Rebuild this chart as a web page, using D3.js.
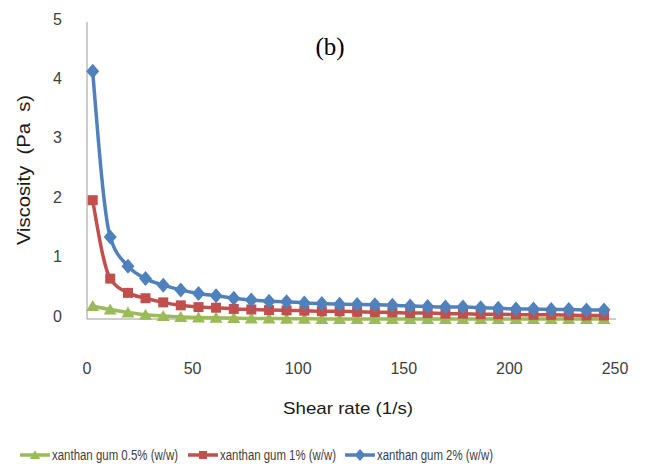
<!DOCTYPE html>
<html>
<head>
<meta charset="utf-8">
<script src="https://cdn.jsdelivr.net/npm/d3@7"></script>
<style>
  body { margin: 0; background: #fff; }
  text { font-family: "Liberation Sans", Arial, sans-serif; }
</style>
</head>
<body>
<div id="viz"></div>
<script>
// shear rate (1/s)
var shearRate = [2.7, 11.0, 19.4, 27.7, 36.1, 44.4, 52.8, 61.1, 69.5, 77.8,
                 86.2, 94.5, 102.9, 111.2, 119.6, 127.9, 136.3, 144.6, 153.0, 161.3,
                 169.7, 178.0, 186.4, 194.7, 203.1, 211.4, 219.8, 228.1, 236.5, 244.8];

// viscosity (Pa s)
var gum05 = [0.22, 0.16, 0.11, 0.07, 0.05, 0.035, 0.025, 0.02, 0.015, 0.01,
             0.01, 0.005, 0.005, 0, 0, 0, 0, 0, 0, 0,
             0, 0, 0, 0, 0, 0, 0, 0, 0, 0];
var gum1 = [2.0, 0.68, 0.44, 0.35, 0.28, 0.23, 0.2, 0.19, 0.17, 0.16,
            0.15, 0.145, 0.14, 0.13, 0.13, 0.12, 0.115, 0.11, 0.1, 0.1,
            0.09, 0.09, 0.08, 0.08, 0.075, 0.07, 0.07, 0.065, 0.06, 0.06];
var gum2 = [4.17, 1.38, 0.89, 0.68, 0.57, 0.49, 0.43, 0.39, 0.35, 0.32,
            0.3, 0.29, 0.27, 0.26, 0.25, 0.245, 0.24, 0.23, 0.22, 0.21,
            0.2, 0.2, 0.19, 0.18, 0.17, 0.17, 0.16, 0.16, 0.15, 0.15];

var seriesNames = ["xanthan gum 0.5% (w/w)", "xanthan gum 1% (w/w)", "xanthan gum 2% (w/w)"];
var xTicks = [0, 50, 100, 150, 200, 250];
var yTicks = [0, 1, 2, 3, 4, 5];

var width = 646, height = 470;

var svg = d3.select("#viz")
  .append("svg")
  .attr("width", width)
  .attr("height", height);

var x = d3.scaleLinear().domain([0, 250]).range([87, 615]);
var y = d3.scaleLinear().domain([0, 5]).range([319, 22]);

// marker shapes, Excel-like
var triangle = "M0,-6L6.5,5L-6.5,5Z";
var square = "M-5,-5H5V5H-5Z";
var diamond = "M0,-7.5L6.5,0L0,7.5L-6.5,0Z";

// axes lines
svg.append("line")
  .attr("x1", x(0)).attr("x2", x(0))
  .attr("y1", y(5)).attr("y2", y(0))
  .attr("stroke", "#9a9a9a").attr("stroke-width", 1);
svg.append("line")
  .attr("x1", x(0)).attr("x2", x(250) + 1)
  .attr("y1", y(0)).attr("y2", y(0))
  .attr("stroke", "#9a9a9a").attr("stroke-width", 1);

// tick labels
svg.selectAll(".ylab").data(yTicks).enter().append("text")
  .attr("class", "ylab")
  .attr("x", 62)
  .attr("y", function(d) { return y(d) - 3; })
  .attr("dy", "0.35em")
  .attr("text-anchor", "end")
  .style("font-size", "16px")
  .attr("fill", "#404040")
  .text(function(d) { return d; });

svg.selectAll(".xlab").data(xTicks).enter().append("text")
  .attr("class", "xlab")
  .attr("x", function(d) { return x(d); })
  .attr("y", 368)
  .attr("dy", "0.35em")
  .attr("text-anchor", "middle")
  .style("font-size", "16px")
  .attr("fill", "#404040")
  .text(function(d) { return d; });

// axis titles
svg.append("text")
  .attr("x", 348).attr("y", 408)
  .attr("dy", "0.35em")
  .attr("text-anchor", "middle")
  .style("font-size", "17px")
  .attr("textLength", 130)
  .attr("lengthAdjust", "spacingAndGlyphs")
  .attr("fill", "#1a1a1a")
  .text("Shear rate (1/s)");

svg.append("text")
  .attr("transform", "translate(23,170) rotate(-90)")
  .attr("dy", "0.35em")
  .attr("text-anchor", "middle")
  .style("font-size", "19px")
  .style("white-space", "pre")
  .attr("textLength", 150)
  .attr("lengthAdjust", "spacingAndGlyphs")
  .attr("fill", "#1a1a1a")
  .text("Viscosity  (Pa  s)");

svg.append("text")
  .attr("x", 330).attr("y", 46)
  .attr("dy", "0.35em")
  .attr("text-anchor", "middle")
  .style("font-family", "'Liberation Serif', 'Times New Roman', serif")
  .style("font-size", "25px")
  .attr("fill", "#000")
  .text("(b)");

var series = [
  {name: seriesNames[0], values: gum05, color: "#9BBB59", shape: triangle, textW: 126},
  {name: seriesNames[1], values: gum1, color: "#C0504D", shape: square, textW: 116},
  {name: seriesNames[2], values: gum2, color: "#4F81BD", shape: diamond, textW: 116}
];

var line = d3.line()
  .x(function(d) { return x(d[0]); })
  .y(function(d) { return y(d[1]); })
  .curve(d3.curveMonotoneX);

series.forEach(function(s) {
  var pts = shearRate.map(function(r, i) { return [r, s.values[i]]; });
  svg.append("path").datum(pts)
    .attr("fill", "none")
    .attr("stroke", s.color)
    .attr("stroke-width", 3.5)
    .attr("d", line);
  svg.selectAll(null).data(pts).enter().append("path")
    .attr("transform", function(d) { return "translate(" + x(d[0]) + "," + y(d[1]) + ")"; })
    .attr("d", s.shape)
    .attr("fill", s.color);
});

// legend
var legendX = [20, 188, 345];
series.forEach(function(s, i) {
  var g = svg.append("g").attr("transform", "translate(" + legendX[i] + ",455)");
  g.append("line")
    .attr("x1", 0).attr("x2", 30)
    .attr("stroke", s.color).attr("stroke-width", 3.5);
  g.append("path")
    .attr("transform", "translate(15,0) scale(0.8)")
    .attr("d", s.shape)
    .attr("fill", s.color);
  g.append("text")
    .attr("x", 32).attr("dy", "0.35em")
    .style("font-size", "14px")
    .attr("textLength", s.textW)
    .attr("lengthAdjust", "spacingAndGlyphs")
    .attr("fill", "#404040")
    .text(s.name);
});
</script>
</body>
</html>
